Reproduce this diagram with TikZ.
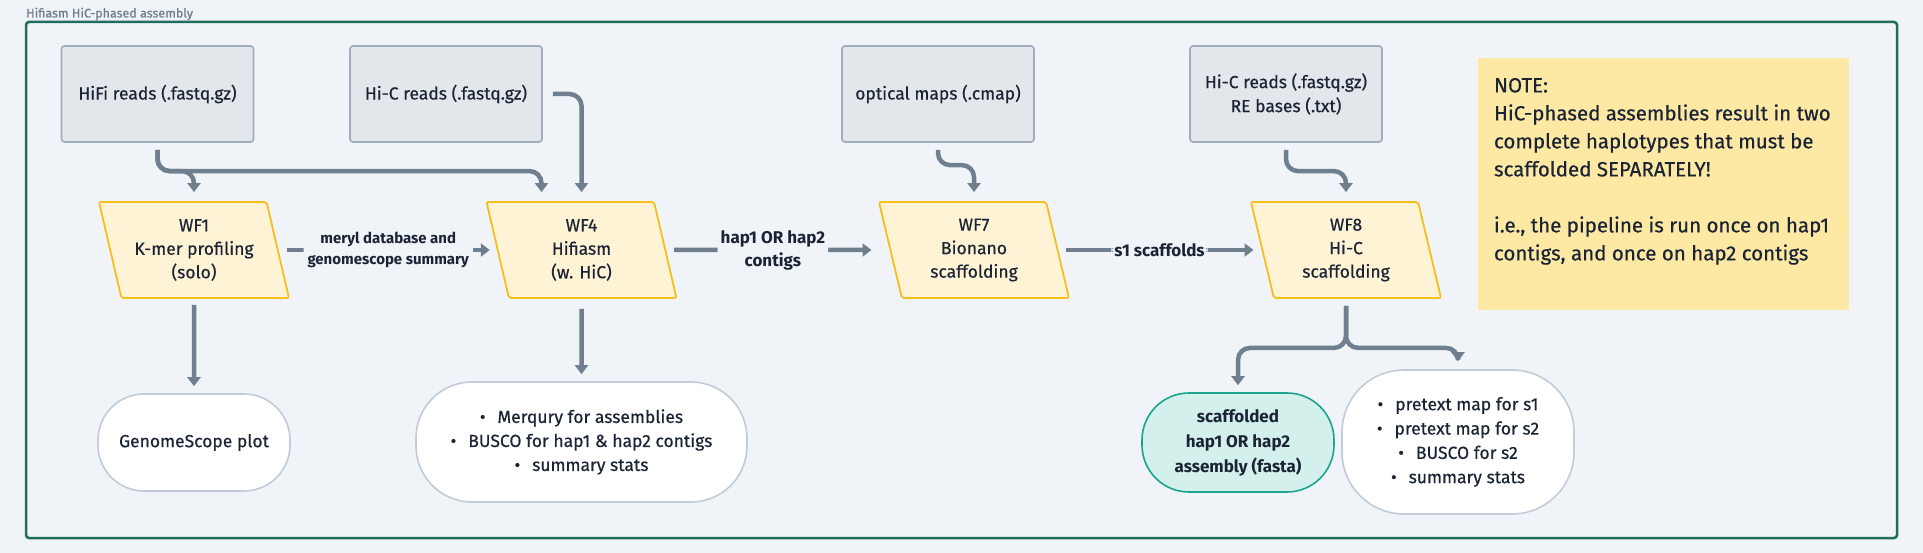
\documentclass[tikz,border=0pt]{standalone}
\usepackage{fontspec}
\setmainfont{Fira Sans}[UprightFeatures={FakeBold=0.5}]
\usetikzlibrary{shapes.geometric,arrows.meta}
\definecolor{bgc}{HTML}{F0F4F8}
\definecolor{framec}{HTML}{1E6E5C}
\definecolor{inf}{HTML}{E3E7EC}
\definecolor{ind}{HTML}{9FADBC}
\definecolor{wff}{HTML}{FEF3D5}
\definecolor{wfd}{HTML}{F6BE1E}
\definecolor{arrc}{HTML}{6F7F8F}
\definecolor{txt}{HTML}{1B2435}
\definecolor{notef}{HTML}{FDE8A4}
\definecolor{scaff}{HTML}{D4F0EC}
\definecolor{scafd}{HTML}{1BA58F}
\definecolor{outd}{HTML}{C1CCD8}
\definecolor{titc}{HTML}{6E7E8C}
\begin{document}
\begin{tikzpicture}[x=1pt,y=-1pt,
  inbox/.style={rectangle, rounded corners=3pt, fill=inf, draw=ind, line width=1.6pt,
    minimum width=192pt, minimum height=96pt, align=center, text=txt,
    font=\fontsize{17.5}{24}\selectfont, inner sep=0pt},
  wfbox/.style={trapezium, trapezium left angle=110, trapezium right angle=70,
    trapezium stretches body, minimum width=190pt, minimum height=96pt,
    fill=wff, draw=wfd, line width=1.8pt, rounded corners=2pt, align=center, text=txt,
    font=\fontsize{17.5}{23.5}\selectfont, inner sep=0pt},
  outbox/.style={rectangle, fill=white, draw=outd, line width=1.6pt, align=center,
    text=txt, font=\fontsize{17.5}{24}\selectfont, inner sep=0pt},
  conn/.style={draw=arrc, line width=4.5pt, rounded corners=12pt,
    -{Triangle[width=13pt,length=9pt]}},
  lblsmall/.style={fill=bgc, text=txt, font=\bfseries\fontsize{15}{20.5}\selectfont,
    align=center, inner xsep=4pt, inner ysep=1pt},
  lblbig/.style={fill=bgc, text=txt, font=\bfseries\fontsize{17}{23}\selectfont,
    align=center, inner xsep=3pt, inner ysep=1pt}
]
\useasboundingbox (0,0) rectangle (1923,553);
\fill[bgc] (0,0) rectangle (1923,553);

% title and frame
\node[anchor=base west, text=titc, font=\fontsize{12.5}{15}\selectfont, inner sep=0pt] (title) at (26,17.5) {Hifiasm HiC-phased assembly};
\node[draw=framec, line width=2.5pt, rounded corners=3pt, minimum width=1871pt, minimum height=516pt, inner sep=0pt] (frame) at (961.5,280) {};

% inputs
\node[inbox] (hifi) at (157.5,94) {HiFi reads (.fastq.gz)};
\node[inbox] (hic) at (446,94) {Hi-C reads (.fastq.gz)};
\node[inbox] (optical) at (938,94) {optical maps (.cmap)};
\node[inbox] (hicre) at (1286,94) {Hi-C reads (.fastq.gz)\\RE bases (.txt)};

% workflows
\node[wfbox] (wf1) at (194,250) {WF1\\K-mer profiling\\(solo)};
\node[wfbox] (wf4) at (581.5,250) {WF4\\Hifiasm\\(w. HiC)};
\node[wfbox] (wf7) at (974,250) {WF7\\Bionano\\scaffolding};
\node[wfbox] (wf8) at (1346,250) {WF8\\Hi-C\\scaffolding};

% outputs
\node[outbox, minimum width=192pt, minimum height=97pt, rounded corners=46pt] (gscope) at (194,442.5) {GenomeScope plot};
\node[outbox, minimum width=331pt, minimum height=120pt, rounded corners=56pt] (merq) at (581.5,442)
  {\textbullet\hspace{12pt}Merqury for assemblies\\\textbullet\hspace{12pt}BUSCO for hap1 \& hap2 contigs\\\textbullet\hspace{12pt}summary stats};
\node[outbox, fill=scaff, draw=scafd, minimum width=192pt, minimum height=99pt, rounded corners=47pt,
  font=\bfseries\fontsize{17}{25}\selectfont] (scaf) at (1238,442.5) {scaffolded\\hap1 OR hap2\\assembly (fasta)};
\node[outbox, minimum width=232pt, minimum height=144pt, rounded corners=62pt, font=\fontsize{17.5}{24.3}\selectfont] (outr) at (1458,442)
  {\textbullet\hspace{12pt}pretext map for s1\\\textbullet\hspace{12pt}pretext map for s2\\\textbullet\hspace{12pt}BUSCO for s2\\\textbullet\hspace{12pt}summary stats};

% note
\node[fill=notef, minimum width=371pt, minimum height=252pt, inner sep=0pt] (note) at (1663.5,184) {};
\node[anchor=north west, align=left, text=txt, font=\fontsize{20.5}{28}\selectfont, inner sep=0pt] (notetext)
  at ([xshift=16pt,yshift=-20pt]note.north west)
  {NOTE:\\HiC-phased assemblies result in two\\complete haplotypes that must be\\scaffolded SEPARATELY!\\[28pt]i.e., the pipeline is run once on hap1\\contigs, and once on hap2 contigs};

% connectors
\draw[conn] ([yshift=-7pt]hifi.south) |- ([yshift=30pt]wf1.north) -- ([yshift=9pt]wf1.north);
\draw[conn] ([yshift=-7pt]hifi.south) |- ([xshift=-40pt,yshift=30pt]wf4.north) -- ([xshift=-40pt,yshift=9pt]wf4.north);
\draw[conn] ([xshift=10pt]hic.east) -| ([yshift=9pt]wf4.north);
\draw[conn] ([yshift=-7pt]optical.south) |- ([yshift=36pt]wf7.north) -- ([yshift=9pt]wf7.north);
\draw[conn] ([yshift=-7pt]hicre.south) |- ([yshift=30pt]wf8.north) -- ([yshift=9pt]wf8.north);

\draw[conn] ([xshift=8pt]wf1.east) -- ([xshift=-7pt]wf4.west)
  node[midway, lblsmall] {meryl database and\\genomescope summary};
\draw[conn] ([xshift=8pt]wf4.east) -- ([xshift=-18pt]wf7.west)
  node[midway, lblbig] {hap1 OR hap2\\contigs};
\draw[conn] ([xshift=7pt]wf7.east) -- ([xshift=-8pt]wf8.west)
  node[midway, lblbig] {s1 scaffolds};

\draw[conn] ([yshift=-6pt]wf1.south) -- ([yshift=7pt]gscope.north);
\draw[conn] ([yshift=-10pt]wf4.south) -- ([yshift=7pt]merq.north);
\draw[conn] ([yshift=-7pt]wf8.south) -- ([yshift=-49pt]wf8.south) -| ([yshift=7pt]scaf.north);
\draw[conn] ([yshift=-7pt]wf8.south) -- ([yshift=-49pt]wf8.south) -| ([yshift=8pt]outr.north);
\end{tikzpicture}
\end{document}
